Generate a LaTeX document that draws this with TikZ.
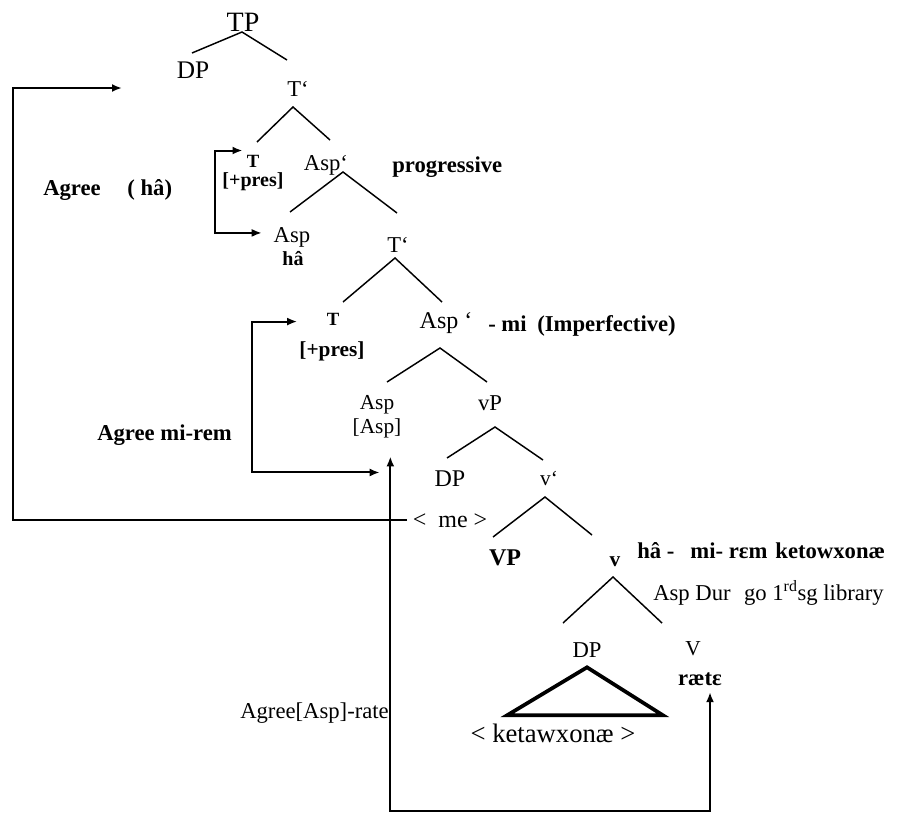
\documentclass[tikz,border=0pt]{standalone}
\usepackage{fontspec}
\setmainfont{Liberation Serif}
\usetikzlibrary{arrows.meta}
\newcommand\myfs[1]{\fontsize{#1}{#1}\selectfont}
\begin{document}
\begin{tikzpicture}[x=0.75pt,y=-0.75pt,
  lab/.style={inner sep=0pt, anchor=base},
  labw/.style={inner sep=0pt, anchor=base west},
  br/.style={line width=1.1pt},
  agr/.style={line width=1.5pt, -{Latex[length=7.5pt,width=6pt]}},
  agrr/.style={line width=1.5pt, {Latex[length=7.5pt,width=6pt]}-{Latex[length=7.5pt,width=6pt]}},
  tri/.style={line width=2.8pt, line join=miter},
]
\useasboundingbox (0,0) rectangle (898,814);

% ---------- tree labels ----------
\node[lab, font=\myfs{21}] (tp) at (243,31) {TP};
\node[lab, font=\myfs{19}] (dp1) at (193,78) {DP};
\node[lab, font=\myfs{17}] (tb1) at (298,96) {T`};
\node[lab, font=\myfs{14}\bfseries] (t1) at (253,167) {T};
\node[lab, font=\myfs{15}\bfseries] (pres1) at (253,186) {[+pres]};
\node[lab, font=\myfs{17}] (ab1) at (326,170) {Asp`};
\node[lab, font=\myfs{17}] (asp2) at (292,242) {Asp};
\node[lab, font=\myfs{15}\bfseries] (ha) at (293,265) {hâ};
\node[lab, font=\myfs{17}] (tb2) at (398,252) {T`};
\node[lab, font=\myfs{14}\bfseries] (t2) at (333,325) {T};
\node[lab, font=\myfs{16}\bfseries] (pres2) at (332,356) {[+pres]};
\node[lab, font=\myfs{18}] (ab2) at (446,328) {Asp `};
\node[lab, font=\myfs{16}] (aspa) at (377,409) {Asp};
\node[lab, font=\myfs{16}] (aspf) at (377,433) {[Asp]};
\node[lab, font=\myfs{17}] (vp) at (490,410) {vP};
\node[lab, font=\myfs{18}] (dp2) at (450,486) {DP};
\node[lab, font=\myfs{16}] (vb) at (549,485) {v`};
\node[lab, font=\myfs{18}\bfseries] (VP) at (505,565) {VP};
\node[lab, font=\myfs{16}\bfseries] (v) at (615,566) {v};
\node[lab, font=\myfs{17}] (dp3) at (587,657) {DP};
\node[lab, font=\myfs{16}] (V) at (693,655) {V};
\node[lab, font=\myfs{17}\bfseries] (rate) at (700,685) {rætε};
\node[lab, font=\myfs{20}] (ket) at (553,742) {< ketawxonæ >};
\node[lab, font=\myfs{18}] (me) at (450,527) {<\ \ me >};

% ---------- side labels ----------
\node[labw, font=\myfs{17}\bfseries] (agree1) at (43,195) {Agree\hspace{20pt}( hâ)};
\node[labw, font=\myfs{17}\bfseries] (prog) at (392,172) {progressive};
\node[labw, font=\myfs{17}\bfseries] (imp) at (488,331) {- mi\hspace{8pt}(Imperfective)};
\node[labw, font=\myfs{17}\bfseries] (agree2) at (97,440) {Agree mi-rem};
\node[labw, font=\myfs{17}\bfseries] (g1) at (637,558) {hâ -\hspace{12pt}mi- rεm\hspace{6pt}ketowxonæ};
\node[labw, font=\myfs{17}] (g2) at (653,600) {Asp Dur\hspace{10pt}go 1\textsuperscript{rd}sg library};
\node[labw, font=\myfs{17}] (agree3) at (240,718) {Agree[Asp]-rate};

% ---------- branch points ----------
\coordinate (tp-b) at (242,32);  \coordinate (tp-l) at (192,53);  \coordinate (tp-r) at (287,60);
\coordinate (tb1-b) at (293,107); \coordinate (tb1-l) at (257,142); \coordinate (tb1-r) at (330,140);
\coordinate (ab1-b) at (343,172); \coordinate (ab1-l) at (290,212); \coordinate (ab1-r) at (397,213);
\coordinate (tb2-b) at (395,258); \coordinate (tb2-l) at (343,302); \coordinate (tb2-r) at (442,302);
\coordinate (ab2-b) at (440,348); \coordinate (ab2-l) at (387,382); \coordinate (ab2-r) at (487,382);
\coordinate (vp-b) at (495,427);  \coordinate (vp-l) at (447,458);  \coordinate (vp-r) at (543,460);
\coordinate (vb-b) at (545,497);  \coordinate (vb-l) at (493,537);  \coordinate (vb-r) at (592,535);
\coordinate (v-b) at (613,577);   \coordinate (v-l) at (563,623);   \coordinate (v-r) at (662,623);

\foreach \n in {tp,tb1,ab1,tb2,ab2,vp,vb,v}{
  \draw[br] (\n-l) -- (\n-b) -- (\n-r);
}

% DP triangle
\draw[tri] ([yshift=-7.5pt]dp3.south) -- ++(-80,48) -- ++(156,0) -- cycle;

% ---------- agreement arrows ----------
\coordinate (agtop) at (122,88);
\coordinate (agcorner) at (13,88);
\draw[agr] ([xshift=-4pt]me.west) -| (agcorner) -- (agtop);

\draw[agrr] ([xshift=-3pt,yshift=3pt]t1.north west) -- ++(-28,0) |- ([xshift=-8.8pt,yshift=3pt]asp2.west);

\draw[agrr] ([xshift=-22pt,yshift=-2pt]t2.west) -- ++(-45,0) |- ([xshift=2pt,yshift=-26pt]aspf.south);

\draw[agrr] ([xshift=10pt,yshift=-14pt]aspf.south) -- ++(0,355) -| ([xshift=7.5pt,yshift=-5pt]rate.south);

\end{tikzpicture}
\end{document}
